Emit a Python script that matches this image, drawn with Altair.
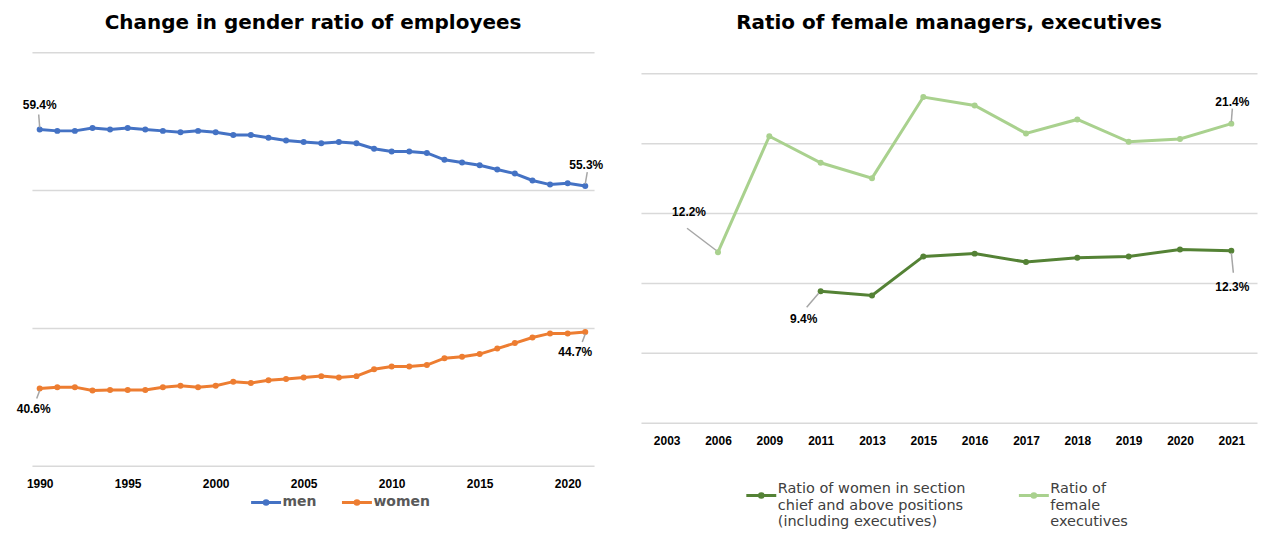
import altair as alt
import pandas as pd

FONT = "Liberation Sans"
WIDE = "DejaVu Sans"

# ---- left chart data ----
years = list(range(1990, 2022))
men = [59.4, 59.3, 59.3, 59.5, 59.4, 59.5, 59.4, 59.3, 59.2, 59.3, 59.2, 59.0, 59.0, 58.8, 58.6, 58.5,
       58.4, 58.5, 58.4, 58.0, 57.8, 57.8, 57.7, 57.2, 57.0, 56.8, 56.5, 56.2, 55.7, 55.4, 55.5, 55.3]
women = [40.6, 40.7, 40.7, 40.45, 40.5, 40.5, 40.5, 40.7, 40.8, 40.7, 40.8, 41.1, 41.0, 41.2, 41.3, 41.4,
         41.5, 41.4, 41.5, 42.0, 42.2, 42.2, 42.3, 42.8, 42.9, 43.1, 43.5, 43.9, 44.3, 44.6, 44.6, 44.7]
left_ticks = [1990, 1995, 2000, 2005, 2010, 2015, 2020]
left_series = ["men", "women"]

# ---- right chart data ----
survey_years = ["2003", "2006", "2009", "2011", "2013", "2015", "2016", "2017", "2018", "2019", "2020", "2021"]
executives = [None, 12.2, 20.5, 18.6, 17.5, 23.3, 22.7, 20.7, 21.7, 20.1, 20.3, 21.4]
managers = [None, None, None, 9.4, 9.1, 11.9, 12.1, 11.5, 11.8, 11.9, 12.4, 12.3]
right_series = ["Ratio of women in section|chief and above positions|(including executives)",
                "Ratio of|female|executives"]

df1 = pd.DataFrame({
    "year": years * 2,
    "value": men + women,
    "series": [left_series[0]] * len(years) + [left_series[1]] * len(years),
})

rows = []
for s, vals in zip(right_series, [managers, executives]):
    for y, v in zip(survey_years, vals):
        if v is not None:
            rows.append({"year": y, "value": v, "group": s})
df2 = pd.DataFrame(rows)

SYMBOL = "M-1,0H1M-0.12,0A0.12,0.12 0 1,1 0.12,0A0.12,0.12 0 1,1 -0.12,0"
SYMBOL_LOW = "M-1,0.42H1M-0.12,0.42A0.12,0.12 0 1,1 0.12,0.42A0.12,0.12 0 1,1 -0.12,0.42"


def title(text):
    return alt.TitleParams(text=text, fontSize=20, fontWeight="bold", font=WIDE, color="black",
                           anchor="middle", offset=19)


def annotate(data, x, y, cond, dx, dy, r):
    base = alt.Chart(data).transform_filter(cond).transform_calculate(
        lbl="format(datum.value, '.1f') + '%'")
    txt = base.mark_text(dx=dx, dy=dy, fontSize=12, fontWeight="bold", font=FONT, color="black").encode(
        x=x, y=y, text="lbl:N")
    rule = base.mark_rule(color="#A6A6A6", strokeWidth=1.5, xOffset=r[0], yOffset=r[1],
                          x2Offset=r[2], y2Offset=r[3]).encode(
        x=x, y=y, x2=alt.X2(x.shorthand), y2=alt.Y2(y.shorthand))
    return [rule, txt]


# ---- left chart ----
x1 = alt.X("year:Q", scale=alt.Scale(domain=[1989.56, 2021.5], nice=False, zero=False),
           axis=alt.Axis(values=left_ticks, format="d", title=None, grid=False, domain=False, ticks=False,
                         labelFontWeight="bold", labelFontSize=12, labelColor="black", labelFont=FONT,
                         labelPadding=13))
y1 = alt.Y("value:Q", scale=alt.Scale(domain=[35, 65], nice=False, zero=False),
           axis=alt.Axis(values=[35, 45, 55, 65], labels=False, ticks=False, domain=False, title=None,
                         gridColor="#D9D9D9", gridWidth=1.5))
color1 = alt.Color("series:N", scale=alt.Scale(domain=left_series, range=["#4472C4", "#ED7D31"]),
                   legend=alt.Legend(orient="none", legendX=218, legendY=434, direction="horizontal",
                                     title=None, symbolType=SYMBOL, symbolSize=900, symbolStrokeWidth=3,
                                     labelFontSize=14, labelFontWeight="bold", labelColor="#595959",
                                     labelFont=WIDE, labelOffset=0, columnPadding=18))
lines1 = alt.Chart(df1).mark_line(strokeWidth=3, point=alt.OverlayMarkDef(size=36, filled=True)).encode(
    x=x1, y=y1, color=color1)

xa = alt.X("year:Q")
ya = alt.Y("value:Q")
ann1 = []
ann1 += annotate(df1, xa, ya, "datum.series == 'men' && datum.year == 1990", 0, -25, (0, -2, -1, -15))
ann1 += annotate(df1, xa, ya, "datum.series == 'men' && datum.year == 2021", 1, -21, (0, -2, 2, -14))
ann1 += annotate(df1, xa, ya, "datum.series == 'women' && datum.year == 1990", -6, 21, (0, 2, -3, 10))
ann1 += annotate(df1, xa, ya, "datum.series == 'women' && datum.year == 2021", -10, 20, (0, 2, -3, 10))

left = alt.layer(lines1, *ann1).properties(width=563, height=414,
                                            title=title("Change in gender ratio of employees"))

# ---- right chart ----
x2 = alt.X("year:N", sort=survey_years,
           scale=alt.Scale(type="point", padding=0.5, domain=survey_years),
           axis=alt.Axis(labelAngle=0, title=None, grid=False, domain=False, ticks=False,
                         labelFontWeight="bold", labelFontSize=12, labelColor="black", labelFont=FONT,
                         labelPadding=13))
y2 = alt.Y("value:Q", scale=alt.Scale(domain=[0, 26.5], nice=False, zero=True),
           axis=alt.Axis(values=[0, 5, 10, 15, 20, 25], labels=False, ticks=False, domain=False, title=None,
                         gridColor="#D9D9D9", gridWidth=1.5))
color2 = alt.Color("group:N", scale=alt.Scale(domain=right_series, range=["#548235", "#A9D18E"]),
                   legend=alt.Legend(orient="none", legendX=104, legendY=421, direction="horizontal",
                                     title=None, symbolType=SYMBOL_LOW, symbolSize=900, symbolStrokeWidth=3,
                                     labelFontSize=14.5, labelColor="#404040", labelFont=WIDE,
                                     labelLimit=400, labelOffset=0, columnPadding=46,
                                     labelExpr="split(datum.label, '|')"))
lines2 = alt.Chart(df2).mark_line(strokeWidth=3, point=alt.OverlayMarkDef(size=36, filled=True)).encode(
    x=x2, y=y2, color=color2)

xb = alt.X("year:N", sort=survey_years)
yb = alt.Y("value:Q")
ex = right_series[1]
mg = right_series[0]
ann2 = []
ann2 += annotate(df2, xb, yb, f"datum.group == '{ex}' && datum.year == '2006'", -29, -40, (-2, -2, -31, -24))
ann2 += annotate(df2, xb, yb, f"datum.group == '{ex}' && datum.year == '2021'", 1, -22, (0, -2, 1, -15))
ann2 += annotate(df2, xb, yb, f"datum.group == '{mg}' && datum.year == '2011'", -17, 28, (-2, 2, -14, 16))
ann2 += annotate(df2, xb, yb, f"datum.group == '{mg}' && datum.year == '2021'", 1, 36, (0, 2, 2, 22))

right = alt.layer(lines2, *ann2).properties(width=617, height=371,
                                             title=title("Ratio of female managers, executives"))

chart = alt.hconcat(left, right, spacing=47, bounds="flush").resolve_scale(
    color="independent"
).resolve_legend(color="independent").properties(
    padding={"left": 16, "top": 13, "right": 5, "bottom": 5},
    background="white",
).configure_view(stroke=None)

chart.save("out.html", embed_options={"renderer": "svg", "actions": False})
